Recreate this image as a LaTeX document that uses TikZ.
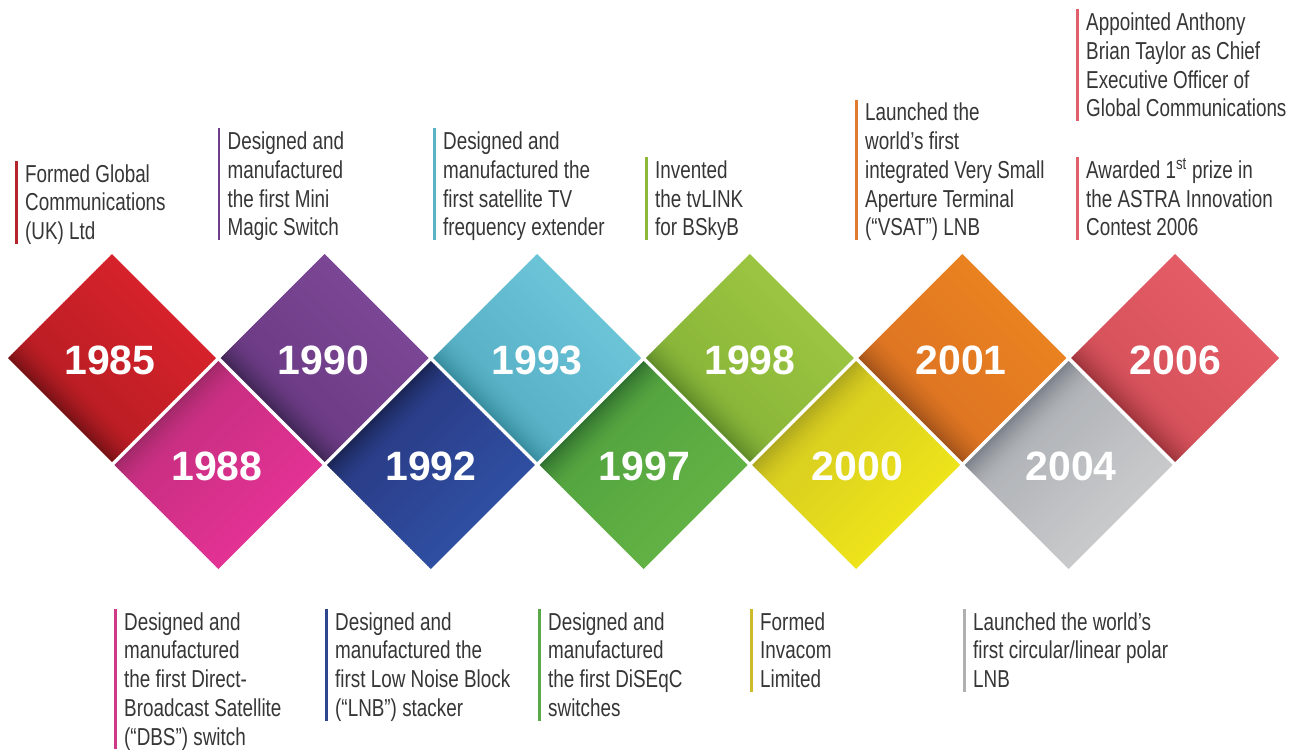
\documentclass[tikz,border=0pt]{standalone}
\usepackage{fontspec}
\setmainfont{Liberation Sans}
\newfontfamily\descfont[FakeStretch=0.77]{Liberation Sans}
\newfontfamily\yearfont{Liberation Sans}

% tile colours: dark edge, body, light side
\definecolor{r85d}{HTML}{6E1013}\definecolor{r85}{HTML}{BE1E25}\definecolor{r85l}{HTML}{D6222A}
\definecolor{m88d}{HTML}{9A2864}\definecolor{m88}{HTML}{CC2F84}\definecolor{m88l}{HTML}{E33294}
\definecolor{p90d}{HTML}{3C2350}\definecolor{p90}{HTML}{6F3D88}\definecolor{p90l}{HTML}{7B4795}
\definecolor{b92d}{HTML}{18224F}\definecolor{b92}{HTML}{2B3F8B}\definecolor{b92l}{HTML}{2F4FA2}
\definecolor{c93d}{HTML}{35899B}\definecolor{c93}{HTML}{5AB3C8}\definecolor{c93l}{HTML}{6CC4D9}
\definecolor{g97d}{HTML}{2C6A2E}\definecolor{g97}{HTML}{55A640}\definecolor{g97l}{HTML}{62B244}
\definecolor{g98d}{HTML}{5A8628}\definecolor{g98}{HTML}{8CB83A}\definecolor{g98l}{HTML}{9BC541}
\definecolor{y00d}{HTML}{A9A21E}\definecolor{y00}{HTML}{DBD11F}\definecolor{y00l}{HTML}{EEE41A}
\definecolor{o01d}{HTML}{9C4F19}\definecolor{o01}{HTML}{E07622}\definecolor{o01l}{HTML}{EA8220}
\definecolor{s04d}{HTML}{767C84}\definecolor{s04}{HTML}{B3B6BA}\definecolor{s04l}{HTML}{C9CACB}
\definecolor{r06d}{HTML}{963038}\definecolor{r06}{HTML}{D8535C}\definecolor{r06l}{HTML}{E45C66}

% bar colours
\definecolor{k85}{HTML}{B5262C}\definecolor{k88}{HTML}{CF3A87}\definecolor{k90}{HTML}{6E3F8A}
\definecolor{k92}{HTML}{2E4590}\definecolor{k93}{HTML}{5AB4C6}\definecolor{k97}{HTML}{5BA848}
\definecolor{k98}{HTML}{8DB83C}\definecolor{k00}{HTML}{CDBB2A}\definecolor{k01}{HTML}{E07A2E}
\definecolor{k04}{HTML}{B0B0B0}\definecolor{k06}{HTML}{E0606A}
\definecolor{notetext}{HTML}{363636}

\tikzset{
  yearlabel/.style={font=\yearfont\bfseries\fontsize{41}{41}\selectfont, text=white,
    inner sep=0pt, text height=29.5pt, text depth=0pt, anchor=center},
  note/.style={anchor=north west, inner sep=0pt, align=left, text=notetext,
    font=\descfont\fontsize{24.5}{28.7}\selectfont},
  notebar/.style={line width=2.6pt, line cap=butt}
}

% a square tile turned by 45 degrees, shaded in strips from its dark edge
% #1,#2 centre, #3 turn, #4 dark, #5 body, #6 light
\newcommand{\tile}[6]{%
  \begin{scope}[shift={(#1,#2)}, rotate=#3]
    \foreach \i in {0,...,59}{%
      \pgfmathsetmacro\tpos{(\i+0.5)/60}%
      \pgfmathtruncatemacro\pdark{92*pow(max(0,1-\tpos/0.26),2)}%
      \pgfmathtruncatemacro\plight{100*max(0,(\tpos-0.26)/0.74)}%
      \pgfmathsetmacro\xa{-73.539+\i*2.45130}%
      \pgfmathsetmacro\xb{min(\xa+3.0513,73.539)}%
      \colorlet{stripcol}{#6!\plight!#5}%
      \fill[#4!\pdark!stripcol] (\xa,-73.539) rectangle (\xb,73.539);
    }
  \end{scope}}

% #1 name, #2 bar colour, #3 text left, #4 first baseline, #5 line count, #6 text
\newcommand{\milestone}[6]{%
  \node[note] (#1) at (#3,#4-20) {\rule{0pt}{20pt}#6};
  \draw[notebar, #2] ([xshift=-8.5pt,yshift=1pt]#1.north west) -- ++(0,{21+(#5-1)*28.7+4.5});
}

\begin{document}
\begin{tikzpicture}[x=1pt, y=-1pt]
\useasboundingbox (0,0) rectangle (1300,749);

% upper row of tiles
\tile{112}{358}{45}{r85d}{r85}{r85l}
\tile{324.6}{358}{45}{p90d}{p90}{p90l}
\tile{537.2}{358}{45}{c93d}{c93}{c93l}
\tile{749.8}{358}{45}{g98d}{g98}{g98l}
\tile{962.4}{358}{45}{o01d}{o01}{o01l}
\tile{1175}{358}{45}{r06d}{r06}{r06l}
% lower row of tiles
\tile{218.3}{465}{-45}{m88d}{m88}{m88l}
\tile{430.9}{465}{-45}{b92d}{b92}{b92l}
\tile{643.5}{465}{-45}{g97d}{g97}{g97l}
\tile{856.1}{465}{-45}{y00d}{y00}{y00l}
\tile{1068.7}{465}{-45}{s04d}{s04}{s04l}

% years
\node[yearlabel] (y1985) at (110,360) {1985};
\node[yearlabel] (y1990) at (323.5,360) {1990};
\node[yearlabel] (y1993) at (537.2,360) {1993};
\node[yearlabel] (y1998) at (749.8,360) {1998};
\node[yearlabel] (y2001) at (961,360) {2001};
\node[yearlabel] (y2006) at (1175.5,360) {2006};
\node[yearlabel] (y1988) at (217,466) {1988};
\node[yearlabel] (y1992) at (430.9,466) {1992};
\node[yearlabel] (y1997) at (644.5,466) {1997};
\node[yearlabel] (y2000) at (857.5,466) {2000};
\node[yearlabel] (y2004) at (1071,466) {2004};

% milestones above
\milestone{n1985}{k85}{25}{182}{3}{Formed Global\\Communications\\(UK) Ltd}
\milestone{n1990}{k90}{227.5}{149.4}{4}{Designed and\\manufactured\\the first Mini\\Magic Switch}
\milestone{n1993}{k93}{443}{149.4}{4}{Designed and\\manufactured the\\first satellite TV\\frequency extender}
\milestone{n1998}{k98}{655}{178.1}{3}{Invented\\the tvLINK\\for BSkyB}
\milestone{n2001}{k01}{865}{120.7}{5}{Launched the\\world’s first\\integrated Very Small\\Aperture Terminal\\(“VSAT”) LNB}
\milestone{n2006a}{k06}{1086}{30.5}{4}{Appointed Anthony\\Brian Taylor as Chief\\Executive Officer of\\Global Communications}
\milestone{n2006b}{k06}{1086}{178.1}{3}{Awarded 1\textsuperscript{st} prize in\\the ASTRA Innovation\\Contest 2006}

% milestones below
\milestone{n1988}{k88}{124}{630}{5}{Designed and\\manufactured\\the first Direct-\\Broadcast Satellite\\(“DBS”) switch}
\milestone{n1992}{k92}{335}{630}{4}{Designed and\\manufactured the\\first Low Noise Block\\(“LNB”) stacker}
\milestone{n1997}{k97}{548}{630}{4}{Designed and\\manufactured\\the first DiSEqC\\switches}
\milestone{n2000}{k00}{760}{630}{3}{Formed\\Invacom\\Limited}
\milestone{n2004}{k04}{973}{630}{3}{Launched the world’s\\first circular/linear polar\\LNB}
\end{tikzpicture}
\end{document}
